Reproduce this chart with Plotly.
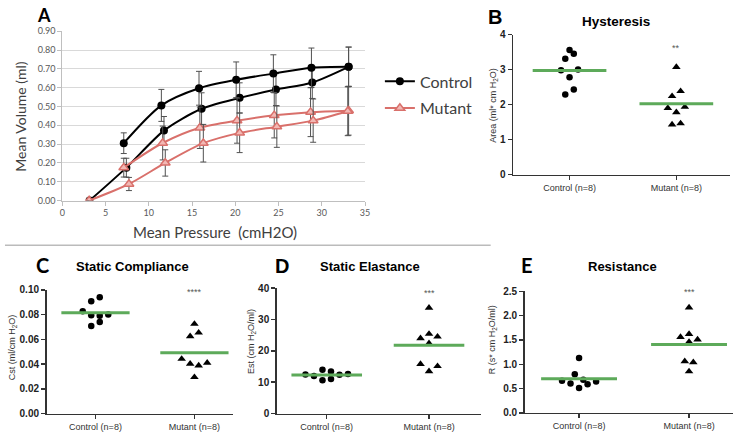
import plotly.graph_objects as go
import numpy as np

# ---------------- data ----------------
# Panel A: pressure-volume loops
ctrl_infl_p = [3.15, 7.4, 11.75, 16.1, 20.5, 24.7, 28.9, 33.1]
ctrl_infl_v = [0.0, 0.175, 0.372, 0.488, 0.546, 0.590, 0.628, 0.711]
ctrl_infl_err = [0.0, 0.05, 0.075, 0.085, 0.08, 0.085, 0.085, 0.105]
ctrl_defl_p = [7.1, 11.45, 15.8, 20.1, 24.4, 28.8, 33.1]
ctrl_defl_v = [0.305, 0.506, 0.597, 0.642, 0.675, 0.706, 0.711]
ctrl_defl_err = [0.055, 0.085, 0.09, 0.095, 0.10, 0.105, 0.105]
mut_infl_p = [3.1, 7.7, 11.9, 16.3, 20.5, 24.8, 29.0, 33.0]
mut_infl_v = [0.0, 0.088, 0.200, 0.305, 0.360, 0.393, 0.425, 0.475]
mut_infl_err = [0.0, 0.035, 0.07, 0.10, 0.105, 0.11, 0.115, 0.13]
mut_defl_p = [7.1, 11.6, 15.9, 20.2, 24.5, 28.7, 33.1]
mut_defl_v = [0.175, 0.306, 0.387, 0.425, 0.453, 0.470, 0.478]
mut_defl_err = [0.05, 0.09, 0.11, 0.12, 0.12, 0.13, 0.13]

groups = ["Control (n=8)", "Mutant (n=8)"]

hyst_ctrl = [3.56, 3.45, 3.31, 2.98, 3.00, 2.78, 2.43, 2.29]
hyst_mut = [3.07, 2.24, 2.38, 1.90, 1.93, 1.78, 1.43, 1.46]
cst_ctrl = [0.0826, 0.0908, 0.0940, 0.0795, 0.0790, 0.0800, 0.0708, 0.0740]
cst_mut = [0.0724, 0.0624, 0.0653, 0.0441, 0.0402, 0.0388, 0.0410, 0.0294]
est_ctrl = [12.5, 12.0, 14.0, 13.4, 12.4, 12.6, 10.6, 11.0]
est_mut = [33.7, 25.4, 24.0, 24.5, 22.4, 15.8, 15.1, 13.5]
res_ctrl = [1.13, 0.793, 0.660, 0.607, 0.680, 0.587, 0.647, 0.513]
res_mut = [2.167, 1.62, 1.56, 1.507, 1.46, 1.06, 1.04, 0.853]

signif = ["**", "****", "***", "***"]

# ---------------- layout helpers (positions only) ----------------
W, H = 741, 441
def xd(a, b): return [a / W, b / W]
def yd(top, bottom): return [1 - bottom / H, 1 - top / H]

# jitter steps (dodge positions) for scatter points
jit_b = ([0, 1, -1, -2, 2, 0, 1, -1], [0, -1, 1, -2, 2, 0, -1, 1])
jit_c = ([-3, -1, 1, -1, 1, 3, -1, 1], [0, -1, 1, -3, -1, 1, 3, 0])
jit_d = ([-5, -3, -1, 1, 3, 5, -1, 1], [0, 0, -2, 2, 0, -2, 2, 0])
jit_e = ([0, -1, -4, -2, 1, 2, 4, 0], [0, 0, -2, 2, 0, -1, 1, 0])

BLACK = "#000000"
RED = "#D9706B"
GREEN = "#5DAA5A"
AX = "#333333"

fig = go.Figure()

# ---------------- Panel A ----------------
fontA = "Lato, Open Sans, sans-serif"
def a_trace(p, v, e, color, marker, name, show):
    return go.Scatter(
        x=p, y=v, mode="lines+markers", name=name, showlegend=show,
        legendgroup=name,
        line=dict(color=color, width=2, shape="spline", smoothing=0.8),
        marker=marker,
        error_y=dict(type="data", array=e, color="#505050", thickness=1, width=3),
        xaxis="x", yaxis="y")

mk_c = dict(symbol="circle", size=8, color=BLACK)
mk_m = dict(symbol="triangle-up", size=8.5, color="#F2B8B4", line=dict(color=RED, width=1.5))
fig.add_trace(a_trace(ctrl_infl_p, ctrl_infl_v, ctrl_infl_err, BLACK, mk_c, "Control", True))
fig.add_trace(a_trace(ctrl_defl_p, ctrl_defl_v, ctrl_defl_err, BLACK, mk_c, "Control", False))
fig.add_trace(a_trace(mut_defl_p, mut_defl_v, mut_defl_err, RED, mk_m, "Mutant", False))
fig.add_trace(a_trace(mut_infl_p, mut_infl_v, mut_infl_err, RED, mk_m, "Mutant", True))

# ---------------- Scatter panels ----------------
panels = [
    ("2", hyst_ctrl, hyst_mut, jit_b, 108.0),
    ("3", cst_ctrl, cst_mut, jit_c, 100.0),
    ("4", est_ctrl, est_mut, jit_d, 103.4),
    ("5", res_ctrl, res_mut, jit_e, 111.0),
]
STEP = 4.3
for ax, vc, vm, jit, ppu in panels:
    for gi, (vals, sym) in enumerate([(vc, "circle"), (vm, "triangle-up")]):
        xs = [gi + j * STEP / ppu for j in jit[gi]]
        fig.add_trace(go.Scatter(
            x=xs, y=vals, mode="markers", showlegend=False,
            marker=dict(symbol=sym, size=6.5 if sym == "circle" else 7.5, color=BLACK),
            xaxis="x" + ax, yaxis="y" + ax))
        m = float(np.mean(vals))
        fig.add_trace(go.Scatter(
            x=[gi - 0.345, gi + 0.345], y=[m, m], mode="lines", showlegend=False,
            line=dict(color=GREEN, width=3), xaxis="x" + ax, yaxis="y" + ax))

tickfontA = dict(family=fontA, size=9, color="#595959")
tickB = dict(family="Liberation Sans, Arial, sans-serif", size=10, color="#222222", weight="bold")
catfont = dict(family="Liberation Sans, Arial, sans-serif", size=9, color="#333333")

def cat_xaxis(dom, rng, anchor):
    return dict(domain=dom, range=rng, anchor=anchor, tickvals=[0, 1], ticktext=groups,
                showline=True, linecolor=AX, linewidth=1.5, ticks="outside", ticklen=4,
                tickcolor=AX, tickwidth=1.5, showgrid=False, zeroline=False,
                tickfont=catfont, fixedrange=True)

def val_yaxis(dom, rng, dtick, fmt, anchor):
    return dict(domain=dom, range=rng, anchor=anchor, dtick=dtick, tickformat=fmt,
                showline=True, linecolor=AX, linewidth=1.5, ticks="outside", ticklen=4,
                tickcolor=AX, tickwidth=1.5, showgrid=False, zeroline=False,
                tickfont=tickB, fixedrange=True)

layout = dict(
    width=W, height=H, margin=dict(l=0, r=0, t=0, b=0),
    paper_bgcolor="white", plot_bgcolor="white",
    showlegend=True,
    legend=dict(x=381 / W, y=1 - 60 / H, xanchor="left", yanchor="top",
                font=dict(family=fontA, size=16, color="#404040"),
                bgcolor="rgba(0,0,0,0)", tracegroupgap=3, itemwidth=30),
    xaxis=dict(domain=xd(60, 366), range=[0, 35], dtick=5, anchor="y",
               showline=True, linecolor="#BFBFBF", linewidth=1, ticks="outside",
               ticklen=4, tickcolor="#BFBFBF", showgrid=False, zeroline=False,
               tickfont=tickfontA),
    yaxis=dict(domain=yd(26, 200), range=[0, 0.9], dtick=0.1, tickformat=".2f", anchor="x",
               showline=True, linecolor="#BFBFBF", linewidth=1, ticks="outside",
               ticklen=4, tickcolor="#BFBFBF", showgrid=True, gridcolor="#D9D9D9",
               gridwidth=1, zeroline=False, tickfont=tickfontA),
    xaxis2=cat_xaxis(xd(515.7, 735), [-0.528, 1.503], "y2"),
    yaxis2=val_yaxis(yd(29.3, 173.3), [0, 4], 1, "d", "x2"),
    xaxis3=cat_xaxis(xd(44, 233), [-0.495, 1.395], "y3"),
    yaxis3=val_yaxis(yd(291.7, 419), [0, 0.1], 0.02, ".2f", "x3"),
    xaxis4=cat_xaxis(xd(276.7, 483), [-0.489, 1.506], "y4"),
    yaxis4=val_yaxis(yd(290, 419), [0, 40], 10, "d", "x4"),
    xaxis5=cat_xaxis(xd(527.3, 738), [-0.495, 1.40], "y5"),
    yaxis5=val_yaxis(yd(293.3, 418.3), [0, 2.5], 0.5, ".1f", "x5"),
)

ann = []
def pa(text, x, y, size, bold=False, family="Liberation Sans, Arial, sans-serif", color="#000", angle=0):
    ann.append(dict(text=("<b>%s</b>" % text) if bold else text, x=x / W, y=1 - y / H,
                    xref="paper", yref="paper", showarrow=False, textangle=angle,
                    font=dict(family=family, size=size, color=color),
                    xanchor="center", yanchor="middle"))

# panel letters
pa("A", 41, 9, 18, True, "Lato, sans-serif")
pa("B", 497, 11, 20, True)
pa("C", 40, 266, 20, True, "Lato, sans-serif")
pa("D", 282, 267, 20, True)
pa("E", 530, 266, 20, True, "Lato, sans-serif")
# titles
pa("Hysteresis", 620, 16, 13.5, True)
pa("Static Compliance", 131, 268, 13, True)
pa("Static Elastance", 371, 268, 13, True)
pa("Resistance", 626, 268, 13, True)
# axis titles
pa("Mean Volume (ml)", 18, 114, 14, False, fontA, "#404040", -90)
pa("Mean Pressure  (cmH2O)", 214, 232, 15, False, fontA, "#404040")
ytf = "Liberation Sans, Arial, sans-serif"
pa("Area (ml* cm H<sub>2</sub>O)", 496, 102, 9, False, ytf, "#333", -90)
pa("Cst (ml/cm H<sub>2</sub>O)", 10, 351, 9, False, ytf, "#333", -90)
pa("Est (cm H<sub>2</sub>O/ml)", 251, 345, 9, False, ytf, "#333", -90)
pa("R (s* cm H<sub>2</sub>O/ml)", 495, 343, 9, False, ytf, "#333", -90)

# significance stars (data coords)
star_y = [3.62, 0.098, 38.5, 2.48]
for i, ax in enumerate(["2", "3", "4", "5"]):
    ann.append(dict(text=signif[i], x=1, y=star_y[i], xref="x" + ax, yref="y" + ax,
                    showarrow=False, font=dict(family=ytf, size=9, color="#555"),
                    xanchor="center", yanchor="middle"))

layout["annotations"] = ann
layout["shapes"] = [dict(type="line", xref="paper", yref="paper", x0=2 / W, x1=493 / W,
                         y0=1 - 246 / H, y1=1 - 246 / H, line=dict(color="#BBBBBB", width=1.5))]

fig.update_layout(**layout)
fig.write_html("out.html", config={"displayModeBar": False, "staticPlot": True},
               post_script="document.body.style.margin='0px';document.body.style.overflow='hidden';")
